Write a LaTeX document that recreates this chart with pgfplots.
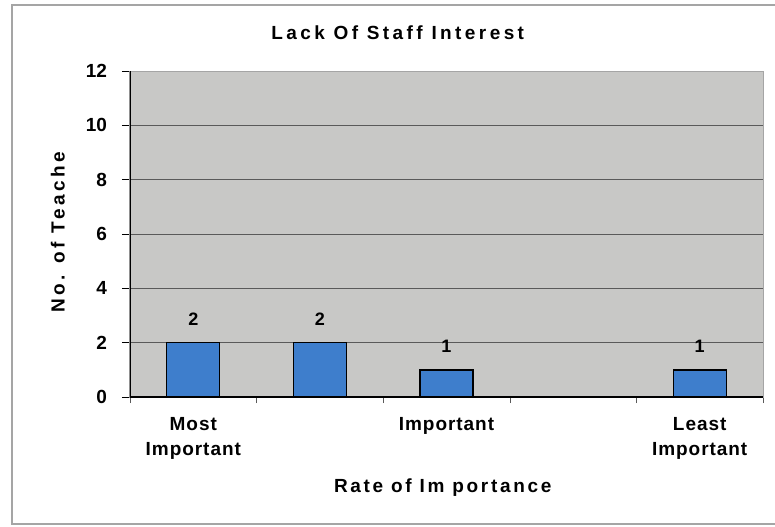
\documentclass[border=0pt]{standalone}
\usepackage{pgfplots}
\pgfplotsset{compat=1.18}
\usepackage{fontspec}
\setmainfont{Liberation Sans}
\definecolor{plotbg}{RGB}{200,200,198}
\definecolor{barblue}{RGB}{62,126,204}
\definecolor{gridc}{RGB}{90,90,90}
\definecolor{framec}{RGB}{165,165,165}
\begin{document}
\begin{tikzpicture}[x=1pt,y=1pt]
% page extent: 775x526 px at 0.5pt/px, axis origin at px (130,397)
\path[use as bounding box] (-65,-64.5) rectangle (322.5,198.5);
\draw[framec,line width=0.6pt] (322.5,196) -- (-59,196) -- (-59,-63.5) -- (322.5,-63.5);
\begin{axis}[
  at={(0,0)}, anchor=south west,
  scale only axis, width=316.5pt, height=163pt,
  xmin=-0.5, xmax=4.5, ymin=0, ymax=12,
  axis background/.style={fill=plotbg},
  axis line style={framec, line width=0.5pt},
  ytick={0,2,...,12},
  ymajorgrids, major grid style={gridc, line width=0.5pt},
  xtick={0,1,2,3,4},
  xticklabels={{Most\\Important},{},{Important},{},{Least\\Important}},
  minor xtick={-0.5,0.5,1.5,2.5,3.5,4.5},
  xtick pos=bottom, ytick pos=left,
  tick align=outside,
  major tick length=4pt, minor tick length=3pt,
  x tick style={draw=none}, minor x tick style={draw=gridc},
  y tick style={black},
  xticklabel style={align=center, font=\bfseries\fontsize{9.5}{12.5}\selectfont\addfontfeature{LetterSpace=5}, yshift=-2.5pt},
  yticklabel style={font=\bfseries\fontsize{9.5}{10}\selectfont, xshift=-4pt},
  /pgf/number format/assume math mode=true,
  ybar, bar width=26.5pt,
  nodes near coords,
  every node near coord/.append style={font=\bfseries\fontsize{9}{10}\selectfont, black, yshift=5pt},
  every axis title shift=0pt,
  title={\addfontfeature{LetterSpace=18}Lack Of Staff Interest},
  title style={at={(axis description cs:0.423,1.117)}, anchor=center, font=\bfseries\fontsize{9.5}{11}\selectfont},
  xlabel={\addfontfeature{LetterSpace=14}Rate of Im portance},
  xlabel style={at={(axis description cs:0.494,-0.279)}, anchor=center, font=\bfseries\fontsize{9.5}{11}\selectfont},
  ylabel={\addfontfeature{LetterSpace=18}No. of Teache},
  ylabel style={at={(axis description cs:-0.114,0.506)}, anchor=center, rotate=0, font=\bfseries\fontsize{9.5}{11}\selectfont},
]
\addplot[fill=barblue, draw=black, line width=0.7pt]
  coordinates {(0,2) (1,2) (2,1) (4,1)};
\draw[black, line width=0.8pt] (rel axis cs:0,1) -- (rel axis cs:0,0) -- (rel axis cs:1,0);
\end{axis}
\end{tikzpicture}
\end{document}
